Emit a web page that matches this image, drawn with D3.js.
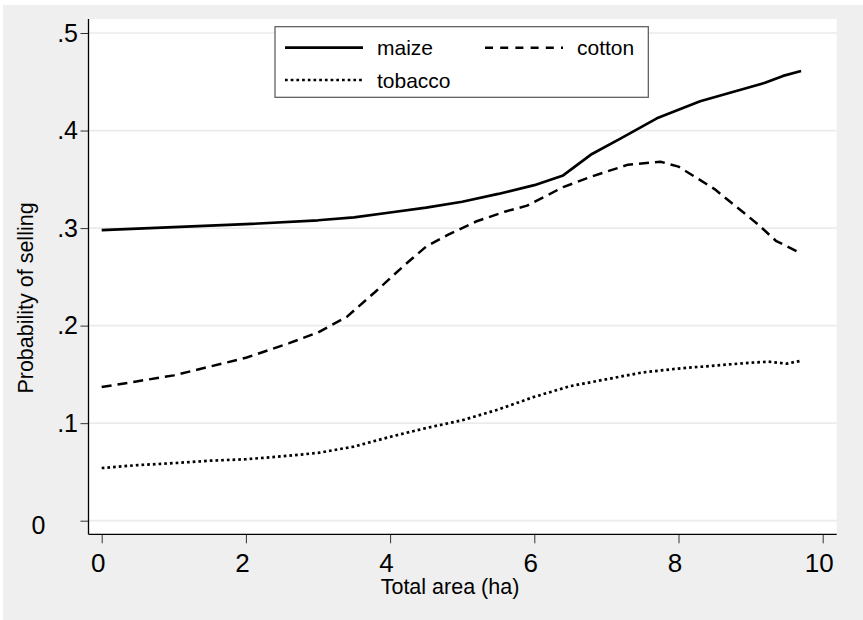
<!DOCTYPE html>
<html>
<head>
<meta charset="utf-8">
<script src="https://cdn.jsdelivr.net/npm/d3@7"></script>
<style>
  body { margin: 0; background: #fff; }
  svg { display: block; font-family: "Liberation Sans", Arial, sans-serif; }
</style>
</head>
<body>
<svg width="863" height="620"></svg>
<script>
// data
var maizeX = [0, 1, 2, 3, 3.5, 4, 4.5, 5, 5.5, 6, 6.4, 6.8, 7.2, 7.7, 8.3, 8.85, 9.2, 9.45, 9.7];
var maizeY = [0.298, 0.301, 0.304, 0.308, 0.311, 0.316, 0.321, 0.327, 0.335, 0.344, 0.354, 0.376, 0.392, 0.4125, 0.430, 0.4416, 0.449, 0.456, 0.461];

var cottonX = [0, 0.5, 1, 1.5, 2, 2.6, 3, 3.4, 3.8, 4.2, 4.5, 4.8, 5.2, 5.6, 5.9, 6.4, 6.8, 7.3, 7.75, 8.0, 8.5, 9.1, 9.35, 9.7];
var cottonY = [0.137, 0.143, 0.149, 0.158, 0.167, 0.182, 0.193, 0.209, 0.235, 0.262, 0.281, 0.293, 0.307, 0.317, 0.323, 0.342, 0.353, 0.365, 0.368, 0.363, 0.340, 0.304, 0.287, 0.274];

var tobaccoX = [0, 0.5, 1, 1.5, 2, 2.5, 3, 3.5, 4, 4.5, 5, 5.5, 6, 6.5, 7, 7.5, 8, 8.5, 9, 9.25, 9.5, 9.7];
var tobaccoY = [0.054, 0.057, 0.059, 0.0615, 0.063, 0.066, 0.0695, 0.076, 0.086, 0.095, 0.103, 0.114, 0.127, 0.138, 0.145, 0.152, 0.156, 0.159, 0.162, 0.163, 0.161, 0.164];

var xTicks = [0, 2, 4, 6, 8, 10];
var yTicks = [0, 0.1, 0.2, 0.3, 0.4, 0.5];
var seriesNames = ["maize", "cotton", "tobacco"];

// plot region (don't call it "top", that's window.top)
var plotLeft = 88.5, plotRight = 836.7, plotTop = 19, plotBottom = 534.3;

var svg = d3.select("svg");

// outer grey panel
svg.append("rect")
  .attr("x", 3).attr("y", 5)
  .attr("width", 860).attr("height", 615)
  .attr("fill", "#efefef");

svg.append("rect")
  .attr("x", plotLeft).attr("y", plotTop)
  .attr("width", plotRight - plotLeft).attr("height", plotBottom - plotTop)
  .attr("fill", "#fff");

var xScale = d3.scaleLinear().domain([0, 10]).range([101.7, 822.7]);
var yScale = d3.scaleLinear().domain([0, 0.5]).range([520.7, 33]);

// grid lines
svg.append("g")
  .selectAll("line")
  .data(yTicks)
  .enter()
  .append("line")
  .attr("x1", plotLeft)
  .attr("x2", plotRight)
  .attr("y1", (d) => yScale(d))
  .attr("y2", (d) => yScale(d))
  .attr("stroke", "#ebebeb")
  .attr("stroke-width", 1.7);

// Y AXIS
var yAxis = d3.axisLeft(yScale)
  .tickValues(yTicks)
  .tickSize(8)
  .tickPadding(2.5)
  .tickFormat((d) => (d === 0 ? "0" : d3.format(".1f")(d).replace(/^0/, "")));

var gy = svg.append("g")
  .attr("transform", `translate(${plotLeft}, 0)`)
  .call(yAxis);
gy.select(".domain").remove();
gy.selectAll(".tick line").attr("stroke", "#333");
gy.selectAll(".tick text")
  .attr("font-size", 25)
  .attr("fill", "#000")
  .attr("font-family", "Liberation Sans, Arial, sans-serif");
// the zero label sits further out, like the original
gy.selectAll(".tick text")
  .filter((d) => d === 0)
  .attr("text-anchor", "middle")
  .attr("x", -50)
  .attr("dy", "0.5em");

// X AXIS
var xAxis = d3.axisBottom(xScale)
  .tickValues(xTicks)
  .tickSize(9)
  .tickPadding(10);

var gx = svg.append("g")
  .attr("transform", `translate(0, ${plotBottom})`)
  .call(xAxis);
gx.select(".domain").remove();
gx.selectAll(".tick line").attr("stroke", "#333");
gx.selectAll(".tick text")
  .attr("font-size", 26)
  .attr("fill", "#000")
  .attr("dx", -4)
  .attr("font-family", "Liberation Sans, Arial, sans-serif");

// axis lines
svg.append("line")
  .attr("x1", plotLeft).attr("x2", plotLeft)
  .attr("y1", plotTop).attr("y2", plotBottom)
  .attr("stroke", "#000").attr("stroke-width", 1.3);
svg.append("line")
  .attr("x1", plotLeft).attr("x2", plotRight)
  .attr("y1", plotBottom).attr("y2", plotBottom)
  .attr("stroke", "#000").attr("stroke-width", 1.3);

// AXIS TITLES
svg.append("text")
  .attr("x", 450)
  .attr("y", 594)
  .style("text-anchor", "middle")
  .style("font-size", "21.5px")
  .text("Total area (ha)");

svg.append("text")
  .attr("transform", "rotate(-90)")
  .attr("x", -298)
  .attr("y", 33)
  .style("text-anchor", "middle")
  .style("font-size", "21.5px")
  .text("Probability of selling");

// LINES
var styles = {
  maize: { dash: null, width: 2.7 },
  cotton: { dash: "10,6", width: 2.5 },
  tobacco: { dash: "2.7,3", width: 2.7 }
};

var series = [
  { name: "maize", pts: maizeX.map((x, i) => [x, maizeY[i]]) },
  { name: "cotton", pts: cottonX.map((x, i) => [x, cottonY[i]]) },
  { name: "tobacco", pts: tobaccoX.map((x, i) => [x, tobaccoY[i]]) }
];

var line = d3.line()
  .x((d) => xScale(d[0]))
  .y((d) => yScale(d[1]));

svg.append("g")
  .selectAll("path")
  .data(series)
  .enter()
  .append("path")
  .attr("d", (d) => line(d.pts))
  .attr("fill", "none")
  .attr("stroke", "#000")
  .attr("stroke-width", (d) => styles[d.name].width)
  .attr("stroke-dasharray", (d) => styles[d.name].dash)
  .attr("stroke-linejoin", "round");

// LEGEND
var legend = svg.append("g");
legend.append("rect")
  .attr("x", 275).attr("y", 26.7)
  .attr("width", 373.3).attr("height", 70.6)
  .attr("fill", "#fff")
  .attr("stroke", "#555")
  .attr("stroke-width", 1.2);

var legendPos = {
  maize: [285, 47.7],
  cotton: [485, 47.7],
  tobacco: [285, 80]
};

seriesNames.forEach((name) => {
  var p = legendPos[name];
  legend.append("line")
    .attr("x1", p[0]).attr("x2", p[0] + 78)
    .attr("y1", p[1]).attr("y2", p[1])
    .attr("stroke", "#000")
    .attr("stroke-width", styles[name].width)
    .attr("stroke-dasharray", name === "cotton" ? "8,7.2" : styles[name].dash);
  legend.append("text")
    .attr("x", p[0] + 92)
    .attr("y", p[1] + 7.5)
    .style("font-size", "21px")
    .text(name);
});
</script>
</body>
</html>
